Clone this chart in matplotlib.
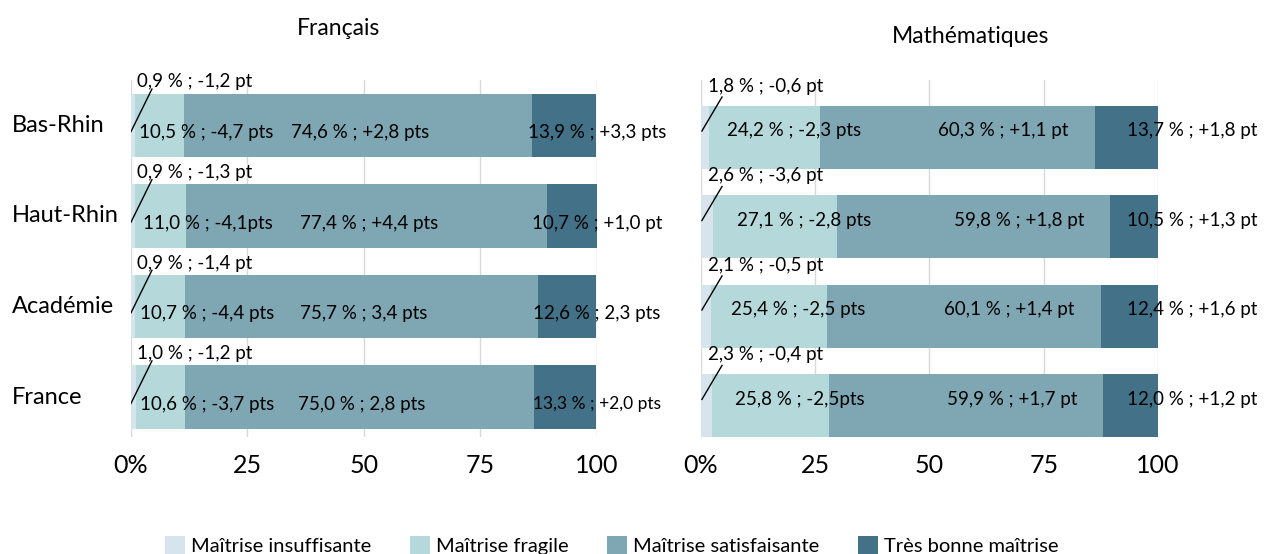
import numpy as np
import matplotlib
matplotlib.use("Agg")
import matplotlib.pyplot as plt

plt.rcParams['font.family'] = ['Lato', 'DejaVu Sans']

territoires = ["Bas-Rhin", "Haut-Rhin", "Académie", "France"]
niveaux = ["Maîtrise insuffisante", "Maîtrise fragile",
           "Maîtrise satisfaisante", "Très bonne maîtrise"]
couleurs = ["#d6e4ee", "#b5d8da", "#7fa6b3", "#437187"]

# Français (%)
fr_insuffisante = [0.9, 0.9, 0.9, 1.0]
fr_fragile = [10.5, 11.0, 10.7, 10.6]
fr_satisfaisante = [74.6, 77.4, 75.7, 75.0]
fr_tres_bonne = [13.9, 10.7, 12.6, 13.3]
# écarts
fr_ec_insuffisante = ["-1,2 pt", "-1,3 pt", "-1,4 pt", "-1,2 pt"]
fr_ec_fragile = ["-4,7 pts", "-4,1pts", "-4,4 pts", "-3,7 pts"]
fr_ec_satisfaisante = ["+2,8 pts", "+4,4 pts", "3,4 pts", "2,8 pts"]
fr_ec_tres_bonne = ["+3,3 pts", "+1,0 pt", "2,3 pts", "+2,0 pts"]

# Mathématiques (%)
ma_insuffisante = [1.8, 2.6, 2.1, 2.3]
ma_fragile = [24.2, 27.1, 25.4, 25.8]
ma_satisfaisante = [60.3, 59.8, 60.1, 59.9]
ma_tres_bonne = [13.7, 10.5, 12.4, 12.0]
ma_ec_insuffisante = ["-0,6 pt", "-3,6 pt", "-0,5 pt", "-0,4 pt"]
ma_ec_fragile = ["-2,3 pts", "-2,8 pts", "-2,5 pts", "-2,5pts"]
ma_ec_satisfaisante = ["+1,1 pt", "+1,8 pt", "+1,4 pt", "+1,7 pt"]
ma_ec_tres_bonne = ["+1,8 pt", "+1,3 pt", "+1,6 pt", "+1,2 pt"]


def etiquette(v, ec):
    return f"{v:.1f}".replace(".", ",") + " % ; " + ec


def panneau(ax, valeurs, ecarts, ylim, dy, reglages):
    y = np.arange(len(territoires))
    gauche = np.zeros(len(territoires))
    for vals, col, nom in zip(valeurs, couleurs, niveaux):
        ax.barh(y, vals, left=gauche, height=0.7, color=col, label=nom, zorder=2)
        gauche += np.array(vals)

    ins, fra, sat, tb = valeurs
    e_ins, e_fra, e_sat, e_tb = ecarts
    x_ins, y_ins, dec_fra, dec_sat, x_tb, ligne = reglages
    fs = 13.5
    for i in range(len(territoires)):
        ax.text(x_ins, i + y_ins, etiquette(ins[i], e_ins[i]), ha="left",
                va="center", fontsize=fs, zorder=4)
        ax.plot(ligne[0], [i + ligne[1][0], i + ligne[1][1]], color="black",
                lw=1, zorder=4)
        ax.text(ins[i] + fra[i] / 2 + dec_fra, i + dy, etiquette(fra[i], e_fra[i]),
                ha="center", va="center", fontsize=fs, zorder=4)
        ax.text(ins[i] + fra[i] + sat[i] / 2 + dec_sat, i + dy,
                etiquette(sat[i], e_sat[i]), ha="center", va="center",
                fontsize=fs, zorder=4)
        ax.text(x_tb, i + dy, etiquette(tb[i], e_tb[i]), ha="center",
                va="center", fontsize=fs if i < 3 or x_tb > 101 else 12.5,
                zorder=4)

    ax.set_xlim(0, 100)
    ax.set_ylim(*ylim)
    ax.set_xticks([0, 25, 50, 75, 100])
    ax.set_xticklabels(["0%", "25", "50", "75", "100"], fontsize=18)
    ax.set_yticks([])
    ax.grid(axis="x", color="#d9d9d9", lw=1, zorder=0)
    ax.tick_params(axis="x", length=0, pad=12)
    for s in ax.spines.values():
        s.set_visible(False)


fig = plt.figure(figsize=(12.69, 5.54), dpi=100)
ax1 = fig.add_axes([0.1032, 0.2112, 0.3672, 0.6444])
ax2 = fig.add_axes([0.5524, 0.2112, 0.3601, 0.6444])

panneau(ax1, [fr_insuffisante, fr_fragile, fr_satisfaisante, fr_tres_bonne],
        [fr_ec_insuffisante, fr_ec_fragile, fr_ec_satisfaisante, fr_ec_tres_bonne],
        (3.44, -0.5), 0.08,
        (1.3, -0.48, 10.0, 0.5, 100, ([4.5, 0], (-0.4, 0.07))))
panneau(ax2, [ma_insuffisante, ma_fragile, ma_satisfaisante, ma_tres_bonne],
        [ma_ec_insuffisante, ma_ec_fragile, ma_ec_satisfaisante, ma_ec_tres_bonne],
        (3.35, -0.64), -0.07,
        (1.5, -0.57, 6.5, 10.0, 107.5, ([4.6, 0.2], (-0.45, -0.07))))

for i, t in enumerate(territoires):
    ax1.text(-0.2554, i, t, transform=ax1.get_yaxis_transform(), ha="left",
             va="center", fontsize=17)

fig.text(0.2664, 0.949, "Français", ha="center", va="center", fontsize=16.5)
fig.text(0.765, 0.935, "Mathématiques", ha="center", va="center", fontsize=16.5)

h, l = ax1.get_legend_handles_labels()
fig.legend(h, l, loc="lower center", bbox_to_anchor=(0.482, -0.035), ncol=4,
           frameon=False, fontsize=14.5, handlelength=1.0, handleheight=1.0,
           handletextpad=0.3, columnspacing=1.9)

fig.savefig("out.png", dpi=100)
